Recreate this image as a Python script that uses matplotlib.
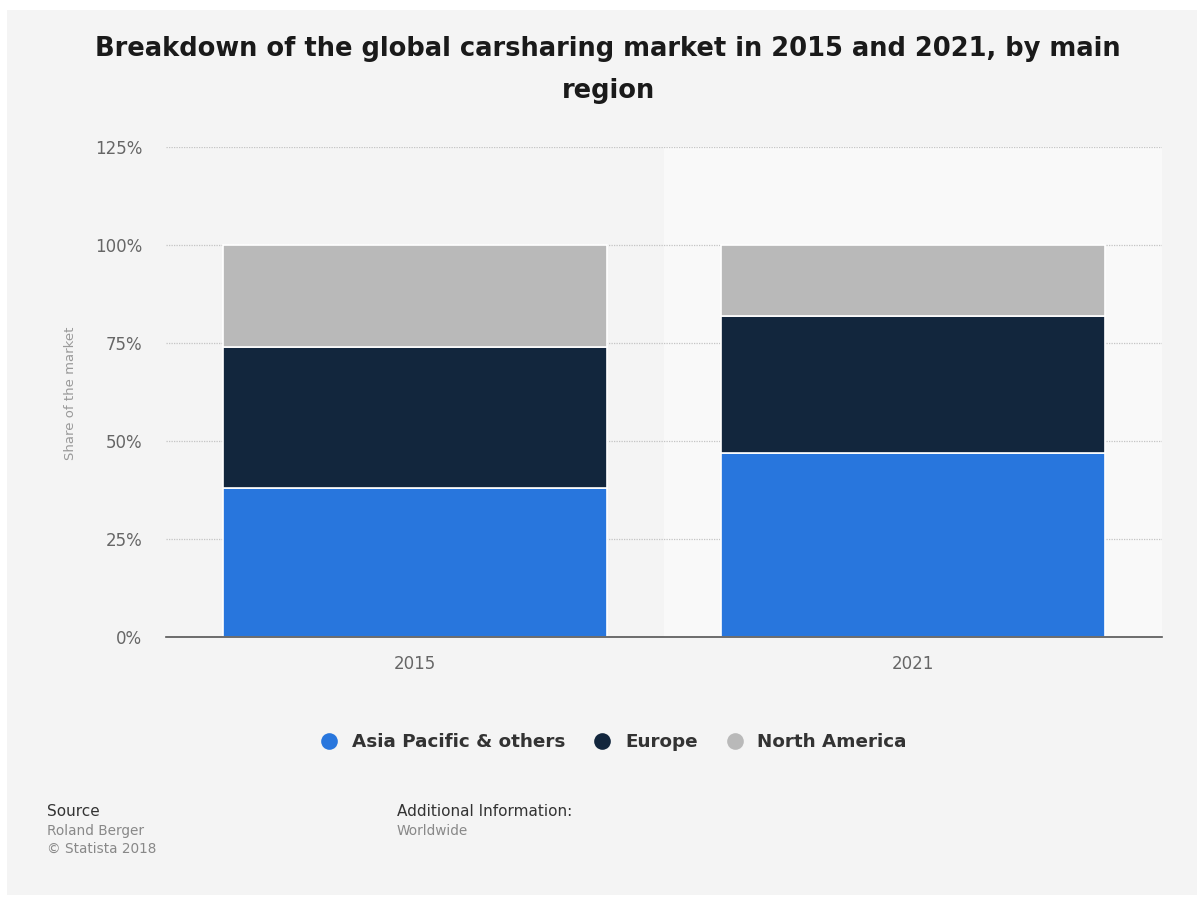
import matplotlib
matplotlib.use('Agg')
import matplotlib.pyplot as plt
from matplotlib.patches import Rectangle
from matplotlib.lines import Line2D
import numpy as np

# Market share by region (percent)
years = ['2015', '2021']
asia_pacific = [38, 47]
europe = [36, 35]
north_america = [26, 18]

regions = ['Asia Pacific & others', 'Europe', 'North America']
colors = ['#2876dd', '#12263d', '#b9b9b9']
yticks = [0, 25, 50, 75, 100, 125]

W, H = 1203, 897
fig = plt.figure(figsize=(W / 100, H / 100), dpi=100, facecolor='white')

# light grey card behind everything
fig.patches.append(Rectangle((7 / W, 2 / H), 1190 / W, 885 / H,
                             transform=fig.transFigure, facecolor='#f4f4f4',
                             edgecolor='none', zorder=-10))

ax = fig.add_axes([166 / W, 1 - 637 / H, 996 / W, 490 / H])
ax.set_facecolor('none')

x = np.arange(len(years))
width = 0.773
# highlighted column for the second category
ax.axvspan(0.5, 1.5, color='#f9f9f9', zorder=0)

bottom = np.zeros(len(years))
for vals, col in zip([asia_pacific, europe, north_america], colors):
    ax.bar(x, vals, width, bottom=bottom, color=col, edgecolor='white',
           linewidth=1.2, zorder=3)
    bottom += np.array(vals)

ax.set_xlim(-0.5, 1.5)
ax.set_ylim(0, 125)
ax.set_yticks(yticks)
ax.set_yticklabels([f'{t}%' for t in yticks])
ax.set_xticks(x)
ax.set_xticklabels(years)
ax.yaxis.grid(True, linestyle=(0, (1, 1)), color='#c4c4c4', linewidth=0.9, zorder=1)
ax.set_axisbelow(True)

for side in ['top', 'right', 'left']:
    ax.spines[side].set_visible(False)
ax.spines['bottom'].set_color('#555555')
ax.spines['bottom'].set_linewidth(1.2)
ax.spines['bottom'].set_zorder(4)
ax.tick_params(axis='both', length=0, labelsize=12, labelcolor='#666666')
ax.tick_params(axis='y', pad=17)
ax.tick_params(axis='x', pad=13)

fig.text(70 / W, 1 - 393 / H, 'Share of the market', rotation=90,
         ha='center', va='center', fontsize=9.5, color='#999999')

fig.text(608 / W, 1 - 70 / H,
         'Breakdown of the global carsharing market in 2015 and 2021, by main\nregion',
         ha='center', va='center', fontsize=18.5, fontweight='bold',
         color='#1a1a1a', linespacing=1.75)

handles = [Line2D([0], [0], marker='o', linestyle='none', markersize=12,
                  markerfacecolor=c, markeredgecolor='none') for c in colors]
leg = fig.legend(handles, regions, loc='center', bbox_to_anchor=(609 / W, 1 - 742 / H),
                 ncol=3, frameon=False, handletextpad=0.25, columnspacing=1.0,
                 prop={'weight': 'bold', 'size': 13.2})
for t in leg.get_texts():
    t.set_color('#333333')

fig.text(47 / W, 1 - 811 / H, 'Source', fontsize=11, color='#333333', va='center')
fig.text(47 / W, 1 - 831 / H, 'Roland Berger', fontsize=9.8, color='#888888', va='center')
fig.text(47 / W, 1 - 849 / H, '\u00a9 Statista 2018', fontsize=9.8, color='#888888', va='center')
fig.text(397 / W, 1 - 811 / H, 'Additional Information:', fontsize=11, color='#333333',
         va='center')
fig.text(397 / W, 1 - 831 / H, 'Worldwide', fontsize=9.8, color='#888888', va='center')

fig.savefig('out.png', dpi=100, facecolor='white')
